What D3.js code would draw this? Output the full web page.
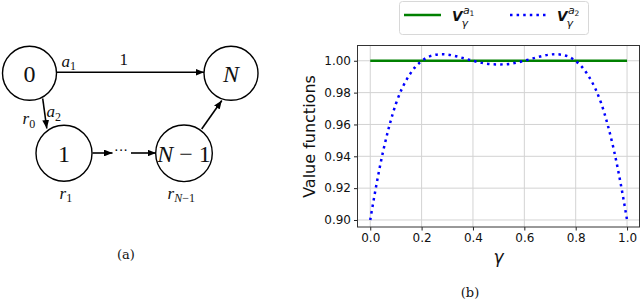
<!DOCTYPE html>
<html>
<head>
<meta charset="utf-8">
<script src="https://cdn.jsdelivr.net/npm/d3@7"></script>
<style>
  body { margin: 0; background: #fff; }
  svg { display: block; }
</style>
</head>
<body>
<svg id="fig" width="640" height="301"></svg>
<script>
// ---- chart data ----
let a1Gamma = [0, 1];
let a1Values = [1.0, 1.0];

let a2Gamma = [0, 0.025, 0.05, 0.075, 0.1, 0.125, 0.15, 0.175, 0.2, 0.225,
    0.25, 0.275, 0.3, 0.325, 0.35, 0.375, 0.4, 0.425, 0.45, 0.475,
    0.5, 0.525, 0.55, 0.575, 0.6, 0.625, 0.65, 0.675, 0.7, 0.725,
    0.75, 0.775, 0.8, 0.825, 0.85, 0.875, 0.9, 0.925, 0.95, 0.975, 1.0];
let a2Values = [0.900, 0.923, 0.943, 0.9595, 0.973, 0.983, 0.9904, 0.996, 0.9998, 1.0024,
    1.0036, 1.0041, 1.0039, 1.0032, 1.0022, 1.0011, 1.0000, 0.9990, 0.9982, 0.9978,
    0.9977, 0.9978, 0.9982, 0.9990, 1.0000, 1.0011, 1.0022, 1.0032, 1.0039, 1.0041,
    1.0036, 1.0024, 0.9998, 0.996, 0.9904, 0.983, 0.973, 0.9595, 0.943, 0.923, 0.900];

let xTicks = [0, 0.2, 0.4, 0.6, 0.8, 1.0];
let yTicks = [0.90, 0.92, 0.94, 0.96, 0.98, 1.00];

// ---- diagram data ----
let states = ["0", "N", "1", "N-1"];
let stateLabels = ["r_0", "a_2", "a_1", "1", "r_1", "r_N-1"];

let svg = d3.select("#fig");

// =================== right panel: value functions ===================
let plot = { left: 357.5, right: 639.5, top: 45.5, bottom: 227 };

let x = d3.scaleLinear().domain([-0.05, 1.05]).range([357.4, 639.9]);
let y = d3.scaleLinear().domain([0.8956, 1.0099]).range([227, 45]);

let chart = svg.append("g");

// grid
chart.append("g").selectAll("line")
    .data(xTicks).enter().append("line")
    .attr("x1", d => x(d)).attr("x2", d => x(d))
    .attr("y1", plot.top).attr("y2", plot.bottom)
    .attr("stroke", "#d3d3d3").attr("stroke-width", 1);
chart.append("g").selectAll("line")
    .data(yTicks).enter().append("line")
    .attr("x1", plot.left).attr("x2", plot.right)
    .attr("y1", d => y(d)).attr("y2", d => y(d))
    .attr("stroke", "#d3d3d3").attr("stroke-width", 1);

// axes
let xAxis = d3.axisBottom(x).tickValues(xTicks).tickFormat(d3.format(".1f"))
    .tickSizeInner(3.5).tickSizeOuter(0).tickPadding(3);
let yAxis = d3.axisLeft(y).tickValues(yTicks).tickFormat(d3.format(".2f"))
    .tickSizeInner(3.5).tickSizeOuter(0).tickPadding(3);

let gx = chart.append("g").attr("transform", "translate(0," + plot.bottom + ")").call(xAxis);
let gy = chart.append("g").attr("transform", "translate(" + plot.left + ",0)").call(yAxis);
[gx, gy].forEach(g => {
    g.select(".domain").remove();
    g.selectAll("text").attr("font-family", "DejaVu Sans").attr("font-size", 12).attr("fill", "#111");
    g.selectAll("line").attr("stroke", "#222");
});

// lines
let line = d3.line().curve(d3.curveCatmullRom)
    .x(d => x(d[0])).y(d => y(d[1]));

chart.append("path")
    .datum(d3.zip(a1Gamma, a1Values))
    .attr("d", line)
    .attr("fill", "none").attr("stroke", "#008000").attr("stroke-width", 2.6);

chart.append("path")
    .datum(d3.zip(a2Gamma, a2Values))
    .attr("d", line)
    .attr("fill", "none").attr("stroke", "#0000ff").attr("stroke-width", 2.5)
    .attr("stroke-dasharray", "2.5,4.1");

// frame
chart.append("rect")
    .attr("x", plot.left).attr("y", plot.top)
    .attr("width", plot.right - plot.left).attr("height", plot.bottom - plot.top)
    .attr("fill", "none").attr("stroke", "#333").attr("stroke-width", 1);

// axis labels
chart.append("text")
    .attr("transform", "translate(315,136.5) rotate(-90)")
    .attr("text-anchor", "middle")
    .attr("font-family", "DejaVu Sans").attr("font-size", 16).attr("fill", "#111")
    .text("Value functions");

chart.append("text")
    .attr("x", (plot.left + plot.right) / 2).attr("y", 263)
    .attr("text-anchor", "middle")
    .attr("font-family", "DejaVu Sans").attr("font-style", "italic")
    .attr("font-size", 17).attr("fill", "#111")
    .text("\u03b3");

// legend
let legend = chart.append("g");
legend.append("rect")
    .attr("x", 399.5).attr("y", 1.5).attr("width", 189).attr("height", 33).attr("rx", 3)
    .attr("fill", "#fff").attr("stroke", "#d8d8d8").attr("stroke-width", 1);
legend.append("line")
    .attr("x1", 404).attr("x2", 441).attr("y1", 15).attr("y2", 15)
    .attr("stroke", "#008000").attr("stroke-width", 2.6);
legend.append("line")
    .attr("x1", 510).attr("x2", 546).attr("y1", 15).attr("y2", 15)
    .attr("stroke", "#0000ff").attr("stroke-width", 2.5).attr("stroke-dasharray", "2.5,4.1");

function vLabel(x0, sub) {
    let g = legend.append("g").attr("font-family", "DejaVu Sans").attr("fill", "#111");
    g.append("text").attr("x", x0).attr("y", 21)
        .attr("font-size", 13.5).attr("font-weight", "bold").attr("font-style", "italic").text("V");
    g.append("text").attr("x", x0 + 11).attr("y", 13.5)
        .attr("font-size", 11).attr("font-style", "italic").text("a");
    g.append("text").attr("x", x0 + 17.5).attr("y", 16)
        .attr("font-size", 7.5).text(sub);
    g.append("text").attr("x", x0 + 9.5).attr("y", 26.5)
        .attr("font-size", 11).attr("font-style", "italic").text("\u03b3");
}
vLabel(452, "1");
vLabel(557, "2");

// caption
svg.append("text").attr("x", 470).attr("y", 297).attr("text-anchor", "middle")
    .attr("font-family", "DejaVu Serif").attr("font-size", 13).attr("fill", "#111").text("(b)");

// =================== left panel: chain diagram ===================
let diag = svg.append("g").attr("font-family", "Liberation Serif").attr("fill", "#000");

let pos = {
    "0": [29.5, 73.3, 27],
    "N": [231, 73.3, 27],
    "1": [64, 153.3, 28],
    "N-1": [184, 153.3, 28.3]
};

svg.append("defs").append("marker")
    .attr("id", "arrow").attr("viewBox", "0 0 10 8")
    .attr("refX", 10).attr("refY", 4)
    .attr("markerWidth", 8.5).attr("markerHeight", 6.8).attr("markerUnits", "userSpaceOnUse")
    .attr("orient", "auto")
    .append("path").attr("d", "M0,0 L10,4 L0,8 Z").attr("fill", "#000");

let edges = [
    [57, 72.3, 204, 72.3],
    [42.7, 98.5, 46.8, 128.5],
    [92.5, 153, 112.5, 153],
    [131, 153, 156, 153],
    [201.7, 129, 221.8, 100.5]
];
diag.selectAll("line.edge").data(edges).enter().append("line")
    .attr("class", "edge")
    .attr("x1", d => d[0]).attr("y1", d => d[1])
    .attr("x2", d => d[2]).attr("y2", d => d[3])
    .attr("stroke", "#000").attr("stroke-width", 1.6)
    .attr("marker-end", "url(#arrow)");

diag.append("text").attr("x", 121).attr("y", 155).attr("text-anchor", "middle")
    .attr("font-size", 14).text("\u00b7\u00b7\u00b7");

diag.selectAll("circle").data(states).enter().append("circle")
    .attr("cx", d => pos[d][0]).attr("cy", d => pos[d][1]).attr("r", d => pos[d][2])
    .attr("fill", "none").attr("stroke", "#000").attr("stroke-width", 1.4);

states.forEach(s => {
    let t = diag.append("text")
        .attr("x", pos[s][0]).attr("y", pos[s][1] + 8.5)
        .attr("text-anchor", "middle").attr("font-size", 24).attr("fill", "#111");
    if (s === "N") {
        t.attr("font-style", "italic").text("N");
    } else if (s === "N-1") {
        t.append("tspan").attr("font-style", "italic").text("N");
        t.append("tspan").text(" \u2212 1");
    } else {
        t.text(s);
    }
});

// edge / reward labels
let labelPos = {
    "r_0": [22.5, 124],
    "a_2": [46.5, 117],
    "a_1": [61.5, 66.5],
    "1": [119.5, 65],
    "r_1": [59.5, 198.5],
    "r_N-1": [167.5, 198.5]
};
stateLabels.forEach(l => {
    let p = labelPos[l];
    let parts = l.split("_");
    let t = diag.append("text").attr("x", p[0]).attr("y", p[1]).attr("font-size", 17).attr("fill", "#111");
    if (parts.length === 1) {
        t.text(parts[0]);
        return;
    }
    t.append("tspan").attr("font-style", "italic").text(parts[0]);
    let sub = parts[1];
    let ts = t.append("tspan").attr("dy", 3.5).attr("font-size", 12);
    if (sub === "N-1") {
        ts.append("tspan").attr("font-style", "italic").text("N");
        ts.append("tspan").text("\u22121");
    } else {
        ts.text(sub);
    }
});

svg.append("text").attr("x", 126).attr("y", 258.5).attr("text-anchor", "middle")
    .attr("font-family", "DejaVu Serif").attr("font-size", 13).attr("fill", "#111").text("(a)");
</script>
</body>
</html>
